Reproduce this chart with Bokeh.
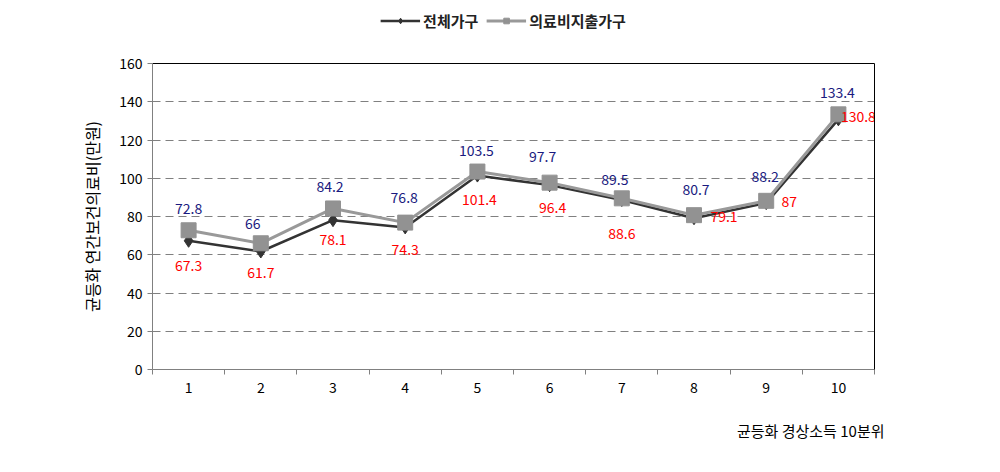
from bokeh.plotting import figure
from bokeh.layouts import column
from bokeh.models import (ColumnDataSource, FixedTicker, LinearAxis, Legend, LegendItem,
                          Title, Range1d)
from bokeh.core.properties import value
from bokeh.embed import file_html
from bokeh.resources import INLINE

# ---- data ----
deciles = ["1", "2", "3", "4", "5", "6", "7", "8", "9", "10"]
all_households = [67.3, 61.7, 78.1, 74.3, 101.4, 96.4, 88.6, 79.1, 87, 130.8]
medical_households = [72.8, 66, 84.2, 76.8, 103.5, 97.7, 89.5, 80.7, 88.2, 133.4]
series_names = ["전체가구", "의료비지출가구"]
y_ticks = [0, 20, 40, 60, 80, 100, 120, 140, 160]
x_title = "균등화 경상소득 10분위"
y_title = "균등화 연간보건의료비(만원)"

# label offsets (pixels) for readability
off_all_x = [0, 0, 0, 0, 2, 3, 0, 30, 23, 20]
off_all_y = [25, 21, 19, 22, 24, 22, 33, -2, -2, -3]
off_med_x = [0, -8, -3, -1, -1, -7, -7, 2, -1, -1]
off_med_y = [-22, -20, -22, -25, -21, -26, -19, -26, -24, -22]

FONT = "Noto Sans CJK KR"
xs = list(range(1, len(deciles) + 1))
DARK, GRAY = "#333333", "#999999"

src = ColumnDataSource(dict(
    x=xs,
    a=all_households,
    m=medical_households,
    a_lbl=[("%g" % v) for v in all_households],
    m_lbl=[("%g" % v) for v in medical_households],
    oax=off_all_x, oay=off_all_y, omx=off_med_x, omy=off_med_y,
))

LEG_H = 40
p = figure(width=984, height=464 - LEG_H, output_backend="svg", toolbar_location=None,
           x_range=Range1d(0.5, len(deciles) + 0.5), y_range=Range1d(0, 160),
           min_border_left=152, min_border_right=110, min_border_top=63 - LEG_H,
           min_border_bottom=95)
p.outline_line_color = None
p.background_fill_color = "white"

# axes
xa = p.xaxis[0]
xa.ticker = FixedTicker(ticks=xs, minor_ticks=[x - 0.5 for x in xs] + [len(xs) + 0.5])
xa.major_label_overrides = {x: d for x, d in zip(xs, deciles)}
xa.major_tick_out = 0
xa.major_tick_in = 0
xa.minor_tick_out = 5
xa.minor_tick_in = 0
xa.minor_tick_line_color = "#808080"
xa.axis_line_color = "#808080"
xa.major_label_text_font = FONT
xa.major_label_text_font_size = "14px"
xa.major_label_text_color = "black"
xa.major_label_standoff = 7

ya = p.yaxis[0]
ya.ticker = FixedTicker(ticks=y_ticks)
ya.minor_tick_line_color = None
ya.major_tick_out = 5
ya.major_tick_in = 0
ya.major_tick_line_color = "#808080"
ya.axis_line_color = "#808080"
ya.major_label_text_font = FONT
ya.major_label_text_font_size = "14px"
ya.major_label_text_color = "black"
ya.major_label_standoff = 5
ya.axis_label = y_title
ya.axis_label_text_font = FONT
ya.axis_label_text_font_size = "16px"
ya.axis_label_text_font_style = "normal"
ya.axis_label_text_color = "black"
ya.axis_label_standoff = 12

for side in ("right", "above"):
    ax = LinearAxis(ticker=FixedTicker(ticks=[]), axis_line_color="black",
                    major_tick_line_color=None, minor_tick_line_color=None,
                    major_label_text_font_size="0px")
    p.add_layout(ax, side)

p.xgrid.grid_line_color = None
p.ygrid.ticker = FixedTicker(ticks=y_ticks[1:-1])
p.ygrid.grid_line_color = "#808080"
p.ygrid.grid_line_dash = "8 5"
p.ygrid.grid_line_width = 1

# series
p.line("x", "a", source=src, line_color=DARK, line_width=2.5)
p.scatter("x", "a", source=src, marker="diamond", size=13, fill_color=DARK, line_color=DARK)
p.line("x", "m", source=src, line_color=GRAY, line_width=3)
p.scatter("x", "m", source=src, marker="square", size=15, fill_color="#929292",
          line_color="#929292")

# data labels
p.text("x", "a", text="a_lbl", source=src, x_offset="oax", y_offset="oay",
       text_font=value(FONT), text_font_size="14px", text_color="#ff0000",
       text_align="center", text_baseline="middle")
p.text("x", "m", text="m_lbl", source=src, x_offset="omx", y_offset="omy",
       text_font=value(FONT), text_font_size="14px", text_color="#1a1a80",
       text_align="center", text_baseline="middle")

# x-axis title at right below ticks
p.add_layout(Title(text=x_title, align="right", text_font=FONT, text_font_size="15px",
                   text_font_style="normal", text_color="black", standoff=44,
                   offset=-10), "below")

# legend strip above the chart (its own small canvas; sample glyphs kept out of view)
lg = figure(width=964, height=LEG_H, output_backend="svg", toolbar_location=None,
            x_axis_type=None, y_axis_type=None, min_border=0,
            x_range=Range1d(100, 101), y_range=Range1d(1000, 1001))
lg.outline_line_color = None
lg.grid.grid_line_color = None
r1 = lg.line("x", "a", source=src, line_color=DARK, line_width=2.5)
r1m = lg.scatter("x", "a", source=src, marker="diamond", size=9, fill_color=DARK,
                 line_color=DARK)
r2 = lg.line("x", "m", source=src, line_color=GRAY, line_width=3)
r2m = lg.scatter("x", "m", source=src, marker="square", size=11, fill_color="#929292",
                 line_color="#929292")
legend = Legend(items=[LegendItem(label=series_names[0], renderers=[r1, r1m]),
                       LegendItem(label=series_names[1], renderers=[r2, r2m])],
                orientation="horizontal", location="center",
                label_text_font=FONT, label_text_font_size="15px",
                label_text_font_style="bold", label_text_color="#222222",
                glyph_width=40, glyph_height=14, label_standoff=3, spacing=8,
                padding=4, margin=0, border_line_color=None,
                background_fill_alpha=0)
lg.add_layout(legend, "center")

layout = column(lg, p, spacing=0)
open("out.html", "w").write(file_html(layout, INLINE))
